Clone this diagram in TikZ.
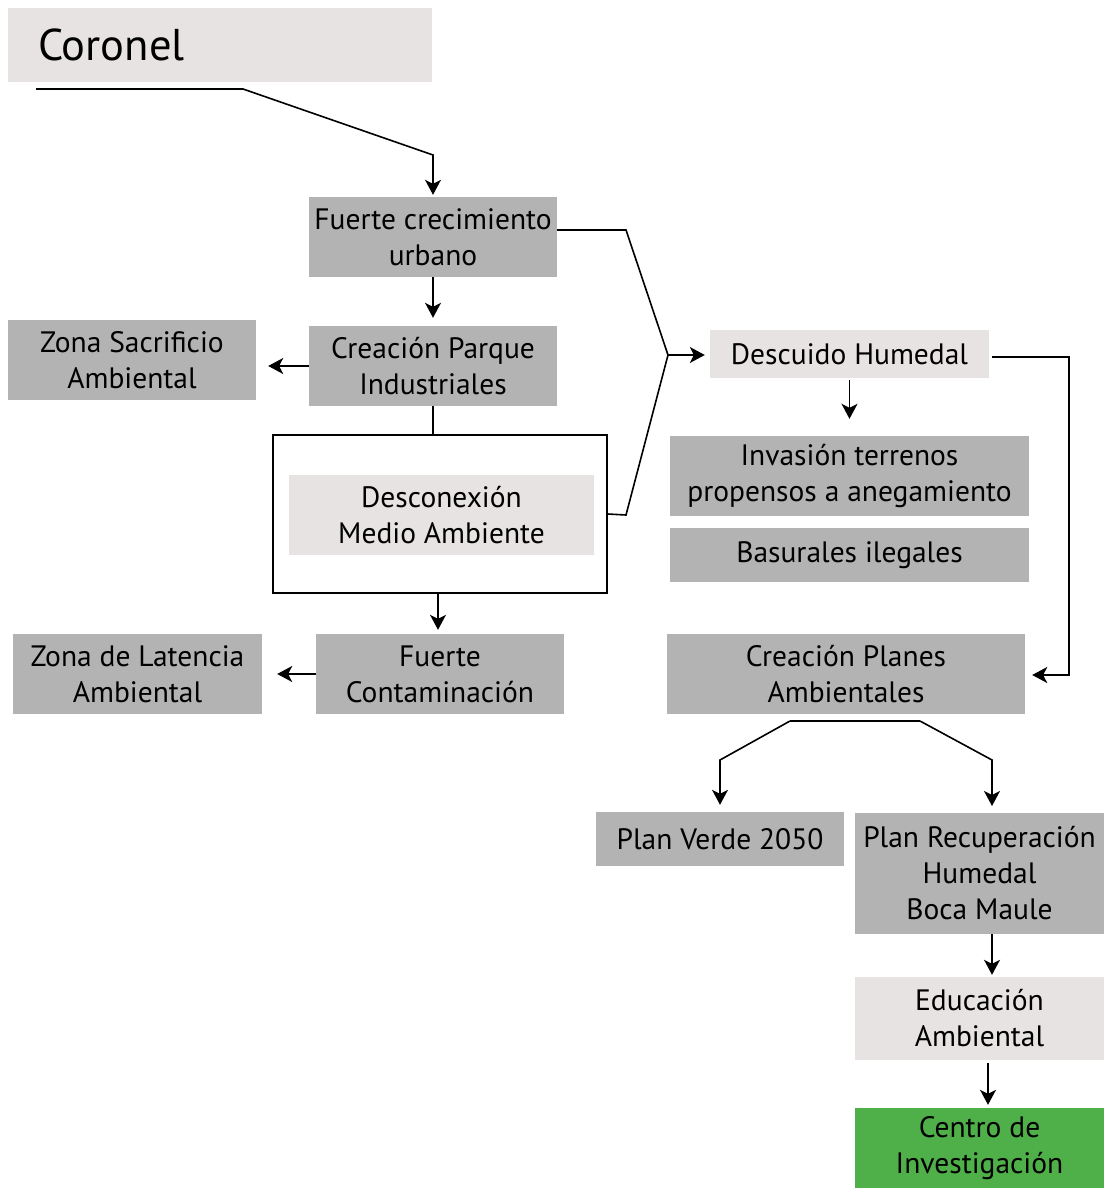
\documentclass[tikz,border=0pt]{standalone}
\usepackage{fontspec}
\setmainfont{PT Sans}
\usetikzlibrary{arrows.meta,calc}
\definecolor{gbox}{HTML}{B3B3B3}
\definecolor{pbox}{HTML}{E8E3E3}
\definecolor{gcenter}{HTML}{4FAF48}
\begin{document}
\begin{tikzpicture}[x=1pt,y=-1pt,
  boxg/.style={fill=gbox, inner sep=0pt, align=center, font=\fontsize{29.5}{36}\selectfont},
  boxp/.style={boxg, fill=pbox},
  boxc/.style={boxg, fill=gcenter},
  ln/.style={line width=1.6pt, black},
  arr/.style={ln, -{Stealth[length=15pt,width=16pt,inset=4pt]}}]
\useasboundingbox (0,0) rectangle (1106,1188);
\fill[white] (0,0) rectangle (1106,1188);
% nodes
\node[fill=pbox, minimum width=424pt, minimum height=74pt, inner xsep=30pt, text width=364pt, align=left,
  font=\fontsize{44.5}{50}\selectfont] (coronel) at (220,45) {Coronel};
\node[boxg, minimum width=248pt, minimum height=80pt] (fcu) at (433,237) {Fuerte crecimiento\\urbano};
\node[boxg, minimum width=248pt, minimum height=80pt] (cpi) at (433,366) {Creación Parque\\Industriales};
\node[boxg, minimum width=248pt, minimum height=80pt] (zsa) at (132,360) {Zona Sacrificio\\Ambiental};
\node[draw=black, line width=1.6pt, fill=white, minimum width=334pt, minimum height=158pt] (outer) at (440,514) {};
\node[boxp, minimum width=305pt, minimum height=80pt] (dma) at (441.5,515) {Desconexión\\Medio Ambiente};
\node[boxg, minimum width=248pt, minimum height=80pt] (fco) at (440,674) {Fuerte\\Contaminación};
\node[boxg, minimum width=249pt, minimum height=80pt] (zla) at (137.5,674) {Zona de Latencia\\Ambiental};
\node[boxp, minimum width=279pt, minimum height=48pt] (dhu) at (849.5,354) {Descuido Humedal};
\node[boxg, minimum width=359pt, minimum height=80pt] (inv) at (849.5,476) {Invasión terrenos\\propensos a anegamiento};
\node[boxg, minimum width=359pt, minimum height=54pt] (bas) at (849.5,555) {Basurales ilegales};
\node[boxg, minimum width=358pt, minimum height=80pt] (cpa) at (846,674) {Creación Planes\\Ambientales};
\node[boxg, minimum width=248pt, minimum height=54pt] (pv) at (720,839) {Plan Verde 2050};
\node[boxg, minimum width=249pt, minimum height=121pt] (prh) at (979.5,873.5) {Plan Recuperación\\Humedal\\Boca Maule};
\node[boxp, minimum width=249pt, minimum height=83pt] (eda) at (979.5,1018.5) {Educación\\Ambiental};
\node[boxc, minimum width=249pt, minimum height=80pt] (cin) at (979.5,1148) {Centro de\\Investigación};
% coordinates
\coordinate (c0) at (36,89);
\coordinate (merge) at (668,355);
\coordinate (split) at (790,721);
% connectors
\draw[arr, shorten >=2pt] (c0) -- (243,89) -- (433,155) -- (fcu.north);
\draw[arr, shorten >=8pt] (fcu.south) -- (cpi.north);
\draw[arr, shorten >=12pt] (cpi.west) -- (cpi.west -| zsa.east);
\draw[ln] (cpi.south) -- (outer.north -| cpi.south);
\draw[arr, shorten >=4pt] ([xshift=-2pt]outer.south) -- ([xshift=-2pt]fco.north);
\draw[arr, shorten >=15pt] (fco.west) -- (zla.east);
\draw[ln] ([yshift=7pt]fcu.east) -- (626,230) -- (merge);
\draw[ln] (outer.east) -- (626,515) -- (merge);
\draw[arr, shorten >=5pt] (merge) -- (merge -| dhu.west);
\draw[arr, shorten >=7pt] ([xshift=3pt,yshift=-3pt]dhu.east) -- (1069,357) -- (1069,675) -- (cpa.east |- 0,675);
\draw[arr, shorten >=17pt] ([yshift=-2pt]dhu.south) -- (inv.north);
\draw[ln] (split) -- (920,721);
\draw[arr, shorten >=7pt] (split) -- (720,760) -- (pv.north);
\draw[arr, shorten >=7pt] (920,721) -- (992,760) -- (992,813);
\draw[arr, shorten >=2pt] ([xshift=12.5pt]prh.south) -- ([xshift=12.5pt]eda.north);
\draw[arr, shorten >=3pt] ([xshift=8.5pt,yshift=-3pt]eda.south) -- ([xshift=8.5pt]cin.north);
\end{tikzpicture}
\end{document}
